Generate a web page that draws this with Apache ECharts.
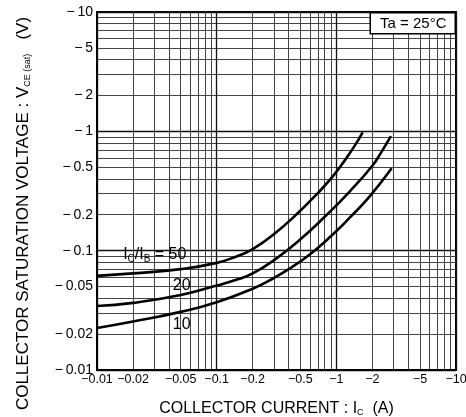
<!DOCTYPE html>
<html><head><meta charset="utf-8">
<script src="https://cdn.jsdelivr.net/npm/echarts@6/dist/echarts.min.js"></script>
<style>html,body{margin:0;padding:0;background:#fff}#c{width:466px;height:417px}</style>
</head><body><div id="c"></div>
<script>
// Tick labels (values are negative: PNP transistor)
const xTickValues = [-0.01, -0.02, -0.05, -0.1, -0.2, -0.5, -1, -2, -5, -10];
const yTickValues = [-0.01, -0.02, -0.05, -0.1, -0.2, -0.5, -1, -2, -5, -10];
// Ic/IB = 50
const ic50  = [-0.01, -0.02, -0.05, -0.1, -0.15, -0.2, -0.3, -0.49, -0.72, -0.93, -1.13, -1.4, -1.66];
const vce50 = [-0.0615, -0.0645, -0.070, -0.079, -0.0903, -0.103, -0.137, -0.212, -0.313, -0.417, -0.54, -0.737, -0.98];
// Ic/IB = 20
const ic20  = [-0.01, -0.02, -0.05, -0.1, -0.15, -0.2, -0.3, -0.49, -0.82, -1.28, -2.0, -2.4, -2.86];
const vce20 = [-0.0344, -0.0365, -0.0425, -0.051, -0.0575, -0.0645, -0.083, -0.122, -0.197, -0.31, -0.515, -0.68, -0.91];
// Ic/IB = 10
const ic10  = [-0.01, -0.02, -0.05, -0.1, -0.2, -0.3, -0.4, -0.6, -0.9, -1.3, -1.9, -2.9];
const vce10 = [-0.0225, -0.0255, -0.0307, -0.037, -0.048, -0.059, -0.070, -0.093, -0.132, -0.19, -0.285, -0.49];
const curveNames = ['50', '20', '10'];

const FONT = 'Liberation Sans, Arial, Helvetica, sans-serif';
const mag = v => Math.abs(v);
const num = v => parseFloat(Number(v).toPrecision(3));
const fmtY = v => '\u2212\u2009' + num(v);
const fmtX = v => '\u2212' + num(v);
const pts = (xs, ys) => xs.map((x, i) => [mag(x), mag(ys[i])]);

const chart = echarts.init(document.getElementById('c'), null, {renderer: 'canvas'});

const axisCommon = {
  type: 'log', logBase: 10, min: 0.01, max: 10, interval: 1,
  axisLine: {show: true, lineStyle: {color: '#000', width: 2}},
  axisTick: {show: false},
  splitLine: {show: true, lineStyle: {color: '#111', width: 1.3}},
  minorTick: {show: false, splitNumber: 9},
  minorSplitLine: {show: true, lineStyle: {color: '#444', width: 1}}
};

const lineStyle = {color: '#000', width: 2.6};
function curve(name, xs, ys, labelCoord, labelText) {
  return {
    type: 'line', name: name, data: pts(xs, ys), smooth: 0.5, showSymbol: false,
    lineStyle: lineStyle, silent: true, z: 5,
    markPoint: {
      symbol: 'circle', symbolSize: 0, silent: true,
      label: {show: true, position: 'inside', color: '#000', fontFamily: FONT, fontSize: 16,
        formatter: labelText,
        rich: {sub: {fontSize: 10, fontFamily: FONT, color: '#000', verticalAlign: 'bottom', padding: [8, 0, 0, 0]},
               n: {fontSize: 16, fontFamily: FONT, color: '#000'}}},
      data: [{coord: labelCoord}]
    }
  };
}

const xNameRich = {n: {fontFamily: FONT, fontSize: 16, color: '#000'},
                   s: {fontFamily: FONT, fontSize: 9, color: '#000', verticalAlign: 'bottom', padding: [6, 0, 0, 0]}};
const yNameRich = {n: {fontFamily: FONT, fontSize: 17, color: '#000'},
                   s: {fontFamily: FONT, fontSize: 9, color: '#000', verticalAlign: 'bottom', padding: [6, 0, 0, 0]},
                   e: {width: 45}};

chart.setOption({
  animation: false,
  grid: {left: 97, right: 10, top: 12, bottom: 47, show: true, borderColor: '#000', borderWidth: 2,
         containLabel: false, outerBoundsMode: 'none'},
  xAxis: Object.assign({}, axisCommon, {
    name: '{n|COLLECTOR CURRENT : I}{s|C}{n|  (A)}',
    nameLocation: 'middle', nameGap: 31,
    nameTextStyle: {fontFamily: FONT, fontSize: 16, color: '#000', rich: xNameRich},
    axisLabel: {customValues: xTickValues.map(mag), formatter: fmtX, fontFamily: FONT, fontSize: 12.5, color: '#000', margin: 3, hideOverlap: false}
  }),
  yAxis: Object.assign({}, axisCommon, {
    name: '{n|COLLECTOR SATURATION VOLTAGE : V}{s|CE (sat)}{n|   (V)}{e|}',
    nameLocation: 'middle', nameGap: 65, nameRotate: 90,
    nameTextStyle: {fontFamily: FONT, fontSize: 17, color: '#000', rich: yNameRich},
    axisLabel: {customValues: yTickValues.map(mag), formatter: fmtY, fontFamily: FONT, fontSize: 14, color: '#000', margin: 4, hideOverlap: false}
  }),
  graphic: [{
    type: 'group', right: 10, top: 12, z: 100,
    children: [
      {type: 'rect', z: 100, shape: {x: 0, y: 0, width: 85, height: 21}, style: {fill: '#fff', stroke: '#000', lineWidth: 1.5}},
      {type: 'text', z: 101, x: 43, y: 11.5, style: {text: 'Ta = 25\u00b0C', fontFamily: FONT, fontSize: 15, fill: '#000', align: 'center', verticalAlign: 'middle'}}
    ]
  }],
  series: [
    curve(curveNames[0], ic50, vce50, [0.0304, 0.092], '{n|I}{sub|C}{n|/I}{sub|B}{n| = ' + curveNames[0] + '}'),
    curve(curveNames[1], ic20, vce20, [0.051, 0.0506], '{n|' + curveNames[1] + '}'),
    curve(curveNames[2], ic10, vce10, [0.051, 0.0238], '{n|' + curveNames[2] + '}')
  ]
});
</script></body></html>
